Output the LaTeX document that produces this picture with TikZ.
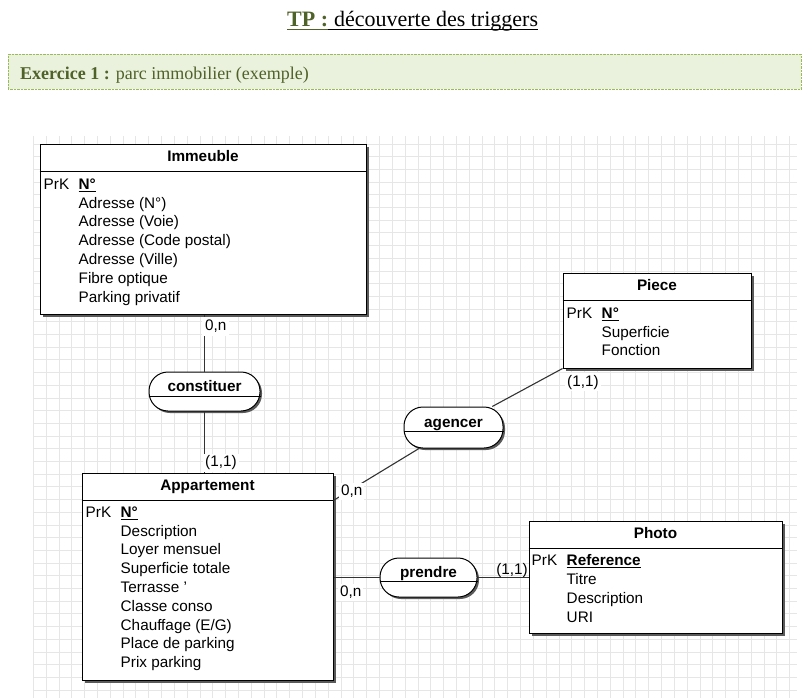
\documentclass[tikz,border=0pt]{standalone}
\usepackage{fontspec}
\setmainfont{Liberation Sans}
\newfontfamily\headfont{Liberation Serif}
\usetikzlibrary{positioning,calc,shadows}

\definecolor{olive}{HTML}{4F6228}
\definecolor{lightolive}{HTML}{EAF1DD}
\definecolor{dotolive}{HTML}{9BBB59}
\definecolor{gridgray}{HTML}{E6E6E6}
\definecolor{shadowgray}{HTML}{5A5A5A}

\newcommand{\erfont}{\fontsize{15.3}{18.8}\selectfont}
\newcommand{\prk}[1]{\makebox[35pt][l]{PrK}\underline{\textbf{#1}}}
\newcommand{\att}{\hspace*{35pt}}

\tikzset{
  gridline/.style={draw=gridgray, line width=1pt},
  headtext/.style={inner sep=0pt, font=\headfont\fontsize{22}{26}\selectfont},
  entity/.style={draw, line width=1pt, fill=white, inner sep=0pt,
    drop shadow={shadow xshift=3pt, shadow yshift=-3pt, fill=shadowgray, opacity=1}},
  etitle/.style={inner sep=0pt, minimum height=27.5pt, text height=11pt, text depth=3pt, font=\erfont\bfseries},
  attrs/.style={inner sep=0pt, align=left, font=\erfont},
  assoc/.style={draw, line width=1pt, fill=white, rounded corners=19pt, minimum height=39pt,
    inner sep=0pt, text height=10.5pt, text depth=10.5pt, font=\erfont\bfseries,
    drop shadow={shadow xshift=2pt, shadow yshift=-2pt, fill=shadowgray, opacity=1}},
  card/.style={fill=white, inner sep=2pt, font=\erfont},
  link/.style={draw=black!80, line width=1.1pt},
}

\begin{document}
\begin{tikzpicture}[x=1pt, y=-1pt]
\useasboundingbox (0,0) rectangle (808,698);

\node[headtext, anchor=base west, text=olive] (tp) at (287,27) {\textbf{TP :}};
\node[headtext, anchor=base west] (tp-t) at (tp.base east) {\ découverte des triggers\ };
\draw[olive, line width=1pt] ($(tp.base west)+(0,3)$) -- ($(tp.base east)+(0,3)$);
\draw[line width=1pt] ($(tp-t.base west)+(0,3)$) -- ($(tp-t.base east)+(0,3)$);
\node[draw=dotolive, densely dotted, fill=lightolive, minimum width=793pt, minimum height=35pt, anchor=north west] (exo) at (8,54) {};
\node[anchor=base west, inner sep=0pt, text=olive, font=\headfont\fontsize{18}{22}\selectfont] (exo-t) at (20,80) {\textbf{Exercice 1 :} parc immobilier (exemple)};

\foreach \i in {0,...,59} \draw[gridline] (33.4+\i*12.82,136) -- (33.4+\i*12.82,698);
\foreach \j in {0,...,43} \draw[gridline] (33,144+\j*12.7) -- (797,144+\j*12.7);

\node[entity, minimum width=326pt, minimum height=170pt] (immeuble) at (203,229) {};
\node[etitle, below=0pt of immeuble.north] (immeuble-t) {Immeuble};
\node[attrs, below right=35pt and 4pt of immeuble.north west] (immeuble-a) {\prk{N°}\\
\att Adresse (N°)\\
\att Adresse (Voie)\\
\att Adresse (Code postal)\\
\att Adresse (Ville)\\
\att Fibre optique\\
\att Parking privatif};

\node[entity, minimum width=188pt, minimum height=95pt] (piece) at (657,320.5) {};
\node[etitle, below=0pt of piece.north] (piece-t) {Piece};
\node[attrs, below right=35pt and 4pt of piece.north west] (piece-a) {\prk{N°}\\
\att Superficie\\
\att Fonction};

\node[entity, minimum width=251pt, minimum height=207pt] (appart) at (207.5,576.5) {};
\node[etitle, below=0pt of appart.north] (appart-t) {Appartement};
\node[attrs, below right=34pt and 4pt of appart.north west] (appart-a) {\prk{N°}\\
\att Description\\
\att Loyer mensuel\\
\att Superficie totale\\
\att Terrasse '\\
\att Classe conso\\
\att Chauffage (E/G)\\
\att Place de parking\\
\att Prix parking};

\node[entity, minimum width=253pt, minimum height=112pt] (photo) at (655.5,577) {};
\node[etitle, below=0pt of photo.north] (photo-t) {Photo};
\node[attrs, below right=34pt and 3pt of photo.north west] (photo-a) {\prk{Reference}\\
\att Titre\\
\att Description\\
\att URI};

\node[assoc, minimum width=111pt] (constituer) at (204.5,391.5) {constituer};
\node[assoc, minimum width=99pt, minimum height=41pt] (agencer) at (453.5,427.5) {agencer};
\node[assoc, minimum width=97pt] (prendre) at (428.5,577.5) {prendre};

\draw[line width=1pt] (immeuble-t.south -| immeuble.west) -- (immeuble-t.south -| immeuble.east);
\draw[line width=1pt] (piece-t.south -| piece.west) -- (piece-t.south -| piece.east);
\draw[line width=1pt] (appart-t.south -| appart.west) -- (appart-t.south -| appart.east);
\draw[line width=1pt] (photo-t.south -| photo.west) -- (photo-t.south -| photo.east);
\draw[line width=1pt] ($(constituer.west)+(0,4.5)$) -- ($(constituer.east)+(0,4.5)$);
\draw[line width=1pt] ($(agencer.west)+(0,3.5)$) -- ($(agencer.east)+(0,3.5)$);
\draw[line width=1pt] ($(prendre.west)+(0,3.5)$) -- ($(prendre.east)+(0,3.5)$);

\path[link] (constituer.north) -- (constituer.north |- immeuble.south);
\path[link] (constituer.south) -- (constituer.south |- appart.north);
\path[link] (agencer) -- (piece.south west);
\path[link] (agencer) -- (appart.east |- appart-t.south);
\path[link] (prendre) -- (prendre -| appart.east);
\path[link] (prendre) -- (prendre -| photo.west);

\node[card, inner sep=3pt, anchor=north west] (c-imm) at (202,317) {0,n};
\node[card, anchor=south west] (c-app1) at (203,472) {(1,1)};
\node[card, anchor=north west] (c-piece) at (565,373) {(1,1)};
\node[card, anchor=north west] (c-app2) at (339,483) {0,n};
\node[card, anchor=north west] (c-app3) at (338,584) {0,n};
\node[inner sep=0pt, anchor=south east, font=\erfont] (c-photo) at (528,578) {(1,1)};
\end{tikzpicture}
\end{document}
